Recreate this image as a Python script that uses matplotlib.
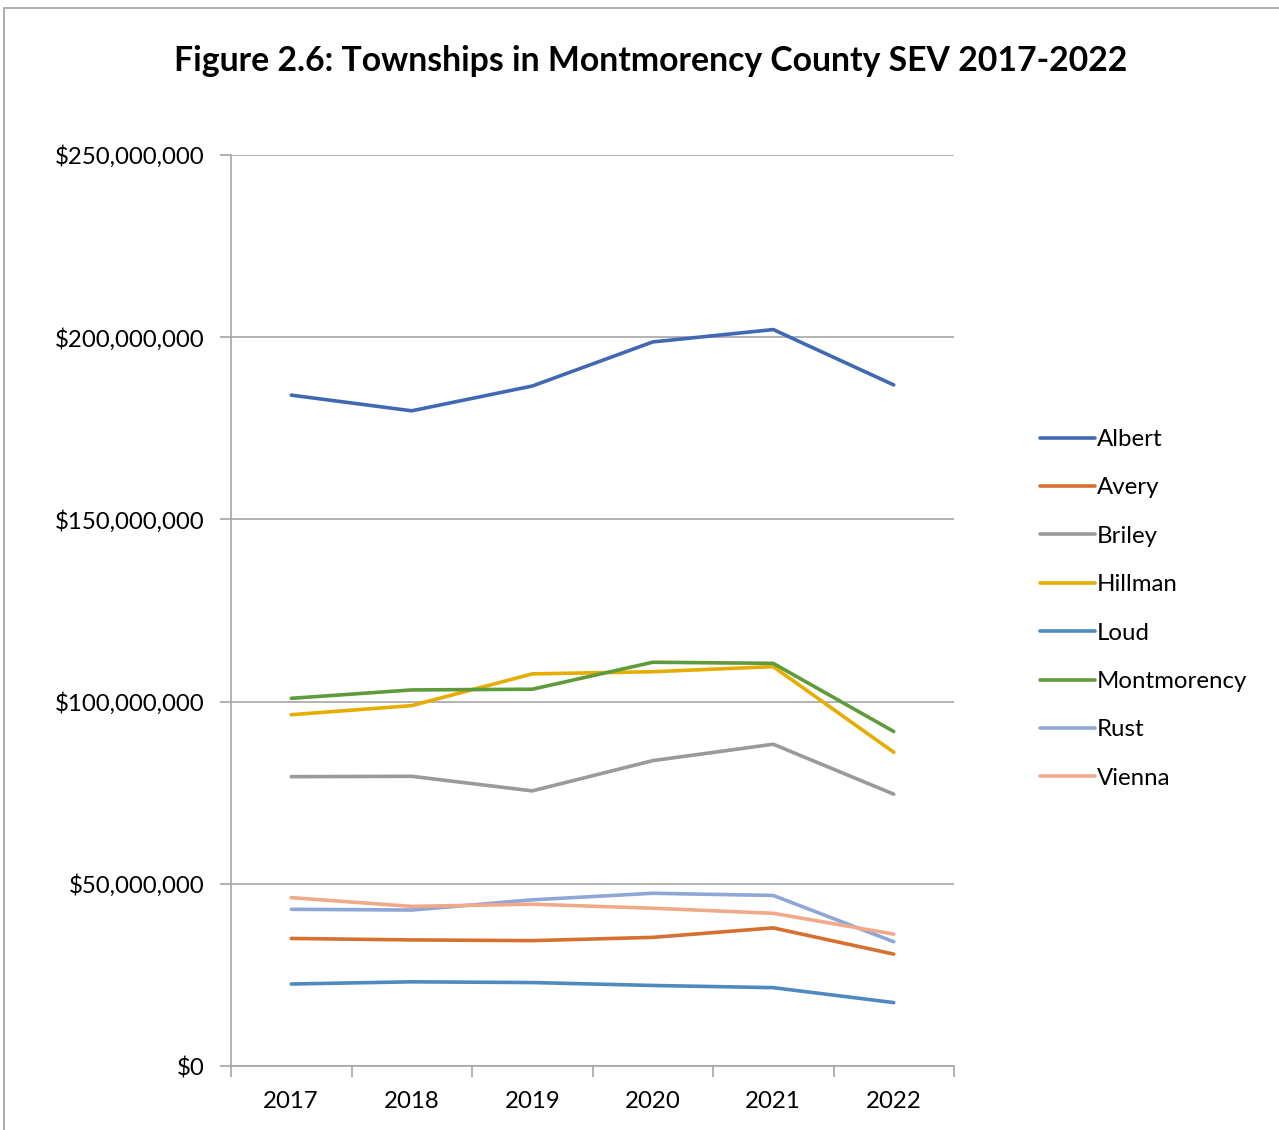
import matplotlib
matplotlib.use("Agg")
import matplotlib.pyplot as plt
from matplotlib.ticker import FuncFormatter, FixedLocator, NullFormatter
from matplotlib.lines import Line2D

plt.rcParams['font.family'] = ['Lato', 'DejaVu Sans']

years = ["2017", "2018", "2019", "2020", "2021", "2022"]

albert = [184.1e6, 179.8e6, 186.6e6, 198.7e6, 202.1e6, 186.9e6]
avery = [35.0e6, 34.6e6, 34.4e6, 35.3e6, 37.9e6, 30.7e6]
briley = [79.4e6, 79.5e6, 75.5e6, 83.8e6, 88.3e6, 74.6e6]
hillman = [96.4e6, 98.9e6, 107.6e6, 108.2e6, 109.6e6, 86.1e6]
loud = [22.5e6, 23.1e6, 22.9e6, 22.1e6, 21.5e6, 17.4e6]
montmorency = [100.9e6, 103.2e6, 103.4e6, 110.8e6, 110.5e6, 91.8e6]
rust = [43.0e6, 42.8e6, 45.6e6, 47.4e6, 46.8e6, 34.1e6]
vienna = [46.2e6, 43.8e6, 44.4e6, 43.3e6, 41.9e6, 36.2e6]

series = [
    ("Albert", albert, "#4169B3"),
    ("Avery", avery, "#D57030"),
    ("Briley", briley, "#9A9A9A"),
    ("Hillman", hillman, "#E6AD00"),
    ("Loud", loud, "#4E8AC0"),
    ("Montmorency", montmorency, "#5F9B3B"),
    ("Rust", rust, "#8FA6D8"),
    ("Vienna", vienna, "#F2A98A"),
]

W, H = 1279, 1130
fig = plt.figure(figsize=(W / 100, H / 100), dpi=100)

# outer chart border
fig.patches.append(plt.Rectangle((4 / W, -0.05), 1.1, (1130 - 8) / H + 0.05,
                                 transform=fig.transFigure, fill=False,
                                 edgecolor="#A0A0A0", linewidth=1.2))

ax = fig.add_axes([231 / W, (H - 1066) / H, (954 - 231) / W, (1066 - 155) / H])

x = list(range(len(years)))
for name, vals, color in series:
    ax.plot(x, vals, color=color, linewidth=2.6, solid_capstyle="round",
            solid_joinstyle="round", label=name)

ax.set_xlim(-0.5, len(years) - 0.5)
ax.set_ylim(0, 250e6)

ax.set_yticks([0, 50e6, 100e6, 150e6, 200e6, 250e6])
ax.yaxis.set_major_formatter(FuncFormatter(lambda v, p: "${:,.0f}".format(v)))
ax.grid(axis="y", color="#A6A6A6", linewidth=1.2)
ax.set_axisbelow(True)

ax.set_xticks(x)
ax.set_xticklabels(years)
ax.tick_params(axis="x", which="major", length=0, pad=18, labelsize=17.3)
ax.xaxis.set_minor_locator(FixedLocator([i - 0.5 for i in range(len(years) + 1)]))
ax.xaxis.set_minor_formatter(NullFormatter())
ax.tick_params(axis="x", which="minor", length=8, color="#A6A6A6", width=1.2)
ax.tick_params(axis="y", length=8, color="#A6A6A6", width=1.2, pad=11, labelsize=17.3)

for s in ("top", "right"):
    ax.spines[s].set_visible(False)
for s in ("left", "bottom"):
    ax.spines[s].set_color("#A6A6A6")
    ax.spines[s].set_linewidth(1.2)

fig.text(651 / W, 1 - 61 / H, "Figure 2.6: Townships in Montmorency County SEV 2017-2022",
         ha="center", va="center", fontsize=24.3, fontweight="bold")

handles = [Line2D([0], [0], color=c, linewidth=2.6, solid_capstyle="round") for _, _, c in series]
labels = [n for n, _, _ in series]
fig.legend(handles, labels, loc="upper left", bbox_to_anchor=(1028 / W, 1 - 417 / H),
           frameon=False, fontsize=17.3, handlelength=2.3, handletextpad=0.08,
           labelspacing=1.14, borderpad=0)

fig.savefig("out.png", dpi=100)
